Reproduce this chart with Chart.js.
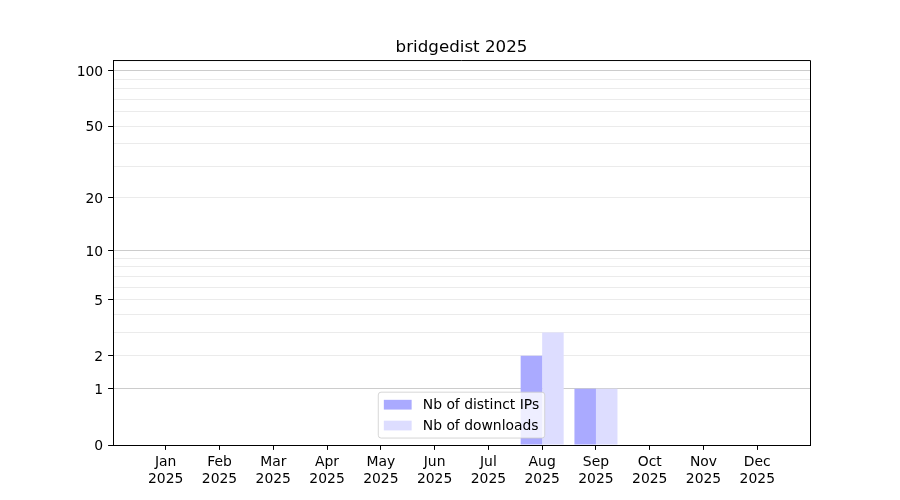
<!DOCTYPE html>
<html>
<head>
<meta charset="utf-8">
<title>bridgedist 2025</title>
<script src="https://cdn.jsdelivr.net/npm/chart.js@4.4.1/dist/chart.umd.min.js"></script>
<style>
  html, body { margin: 0; padding: 0; background: #fff; }
</style>
</head>
<body>
<canvas id="statsChart" width="900" height="500"></canvas>
<script>
// data
const months = ['Jan', 'Feb', 'Mar', 'Apr', 'May', 'Jun', 'Jul', 'Aug', 'Sep', 'Oct', 'Nov', 'Dec'];
const year = '2025';
const distinctIps = [0, 0, 0, 0, 0, 0, 0, 2, 1, 0, 0, 0];
const downloads = [0, 0, 0, 0, 0, 0, 0, 3, 1, 0, 0, 0];

// y axis ticks (log(1+x) scale)
const yLabelTicks = [0, 1, 2, 5, 10, 20, 50, 100];
const yMinorTicks = [3, 4, 6, 7, 8, 9, 30, 40, 60, 70, 80, 90];
const yMajorGrid = [1, 10, 100];

const FONT = 'DejaVu Sans';
const FS = 13.9;
const TICK = 4.9;

Chart.defaults.font.family = FONT;
Chart.defaults.color = '#000';

// scale that maps v -> log10(1 + v), like the picture's axis
class Log1pScale extends Chart.Scale {
    determineDataLimits() {
        const { min, max } = this.getMinMax(true);
        this.min = this.options.min ?? Math.max(0, min);
        this.max = this.options.max ?? max;
    }
    buildTicks() {
        const all = [...yLabelTicks, ...yMinorTicks].sort((a, b) => a - b);
        return all
            .filter(v => v >= this.min && v <= this.max)
            .map(v => ({ value: v, major: yMajorGrid.includes(v) }));
    }
    configure() {
        super.configure();
        this._start = Math.log10(1 + this.min);
        this._range = Math.log10(1 + this.max) - this._start;
    }
    getLabelForValue(v) {
        return String(v);
    }
    getPixelForValue(v) {
        return this.getPixelForDecimal((Math.log10(1 + v) - this._start) / this._range);
    }
    getValueForPixel(p) {
        return Math.pow(10, this._start + this.getDecimalForPixel(p) * this._range) - 1;
    }
}
Log1pScale.id = 'log1p';
Log1pScale.defaults = {};
Chart.register(Log1pScale);

// top and right spines + legend inside the plot (lower center)
const frameAndLegend = {
    id: 'frameAndLegend',
    afterDraw(chart) {
        const { ctx, chartArea } = chart;
        ctx.save();
        ctx.strokeStyle = '#000';
        ctx.lineWidth = 1;
        ctx.beginPath();
        ctx.moveTo(chartArea.left, chartArea.top + 0.5);
        ctx.lineTo(chartArea.right + 0.5, chartArea.top + 0.5);
        ctx.lineTo(chartArea.right + 0.5, chartArea.bottom);
        ctx.stroke();

        ctx.font = FS + 'px "' + FONT + '"';
        const items = chart.data.datasets;
        const textW = Math.max(...items.map(d => ctx.measureText(d.label).width));
        const pad = 0.4 * FS, handle = 2 * FS, gap = 0.8 * FS, spacing = 0.5 * FS;
        const w = pad * 2 + handle + gap + textW;
        const h = pad * 2 + items.length * FS + (items.length - 1) * spacing;
        const x = (chartArea.left + chartArea.right) / 2 - w / 2;
        const y = chartArea.bottom - 0.5 * FS - h;

        ctx.beginPath();
        if (ctx.roundRect) ctx.roundRect(x, y, w, h, 0.2 * FS);
        else ctx.rect(x, y, w, h);
        ctx.fillStyle = 'rgba(255,255,255,0.8)';
        ctx.fill();
        ctx.strokeStyle = 'rgba(204,204,204,0.8)';
        ctx.stroke();

        ctx.textAlign = 'left';
        ctx.textBaseline = 'middle';
        items.forEach((d, i) => {
            const cy = y + pad + i * (FS + spacing) + FS / 2;
            ctx.fillStyle = d.backgroundColor;
            ctx.fillRect(x + pad, cy - 0.35 * FS, handle, 0.7 * FS);
            ctx.fillStyle = '#000';
            ctx.fillText(d.label, x + pad + handle + gap, cy + 0.5);
        });
        ctx.restore();
    }
};

const ctx = document.getElementById('statsChart').getContext('2d');
new Chart(ctx, {
    type: 'bar',
    data: {
        datasets: [{
            label: 'Nb of distinct IPs',
            data: months.map((m, i) => ({ x: i, y: distinctIps[i] })),
            backgroundColor: '#aaaaff'
        }, {
            label: 'Nb of downloads',
            data: months.map((m, i) => ({ x: i, y: downloads[i] })),
            backgroundColor: '#ddddff'
        }]
    },
    options: {
        responsive: false,
        animation: false,
        layout: { padding: { left: 0, right: 90, top: 0, bottom: 0 } },
        datasets: { bar: { categoryPercentage: 0.8, barPercentage: 1.0, borderWidth: 0 } },
        plugins: {
            legend: { display: false },
            tooltip: { enabled: false },
            title: {
                display: true,
                fullSize: false,
                text: 'bridgedist 2025',
                color: '#000',
                font: { family: FONT, size: 16.7, weight: 'normal' },
                padding: { top: 38, bottom: 2 }
            }
        },
        scales: {
            x: {
                type: 'linear',
                min: -0.98,
                max: 11.98,
                offset: false,
                afterBuildTicks: scale => { scale.ticks = months.map((m, i) => ({ value: i })); },
                afterFit: scale => { scale.height = 55; },
                grid: { offset: false, drawOnChartArea: false, drawTicks: true, tickLength: TICK, tickColor: '#000', tickWidth: 1 },
                border: { display: true, color: '#000', width: 1 },
                ticks: {
                    autoSkip: false,
                    maxRotation: 0,
                    padding: 4,
                    color: '#000',
                    font: { size: FS, lineHeight: 1.2 },
                    callback: v => [months[v], year]
                }
            },
            y: {
                type: 'log1p',
                min: 0,
                max: 114,
                z: 1,
                afterFit: scale => { scale.width = 113; },
                grid: {
                    color: c => (c.tick && yMajorGrid.includes(c.tick.value)) ? '#cccccc' : '#ebebeb',
                    lineWidth: 1,
                    tickLength: TICK,
                    tickWidth: 1,
                    tickColor: c => (c.tick && yLabelTicks.includes(c.tick.value)) ? '#000' : 'rgba(0,0,0,0)'
                },
                border: { display: true, color: '#000', width: 1 },
                ticks: {
                    autoSkip: false,
                    padding: 4.9,
                    labelOffset: 1.5,
                    color: '#000',
                    font: { size: FS },
                    callback: v => yLabelTicks.includes(v) ? String(v) : ''
                }
            }
        }
    },
    plugins: [frameAndLegend]
});
</script>
</body>
</html>
